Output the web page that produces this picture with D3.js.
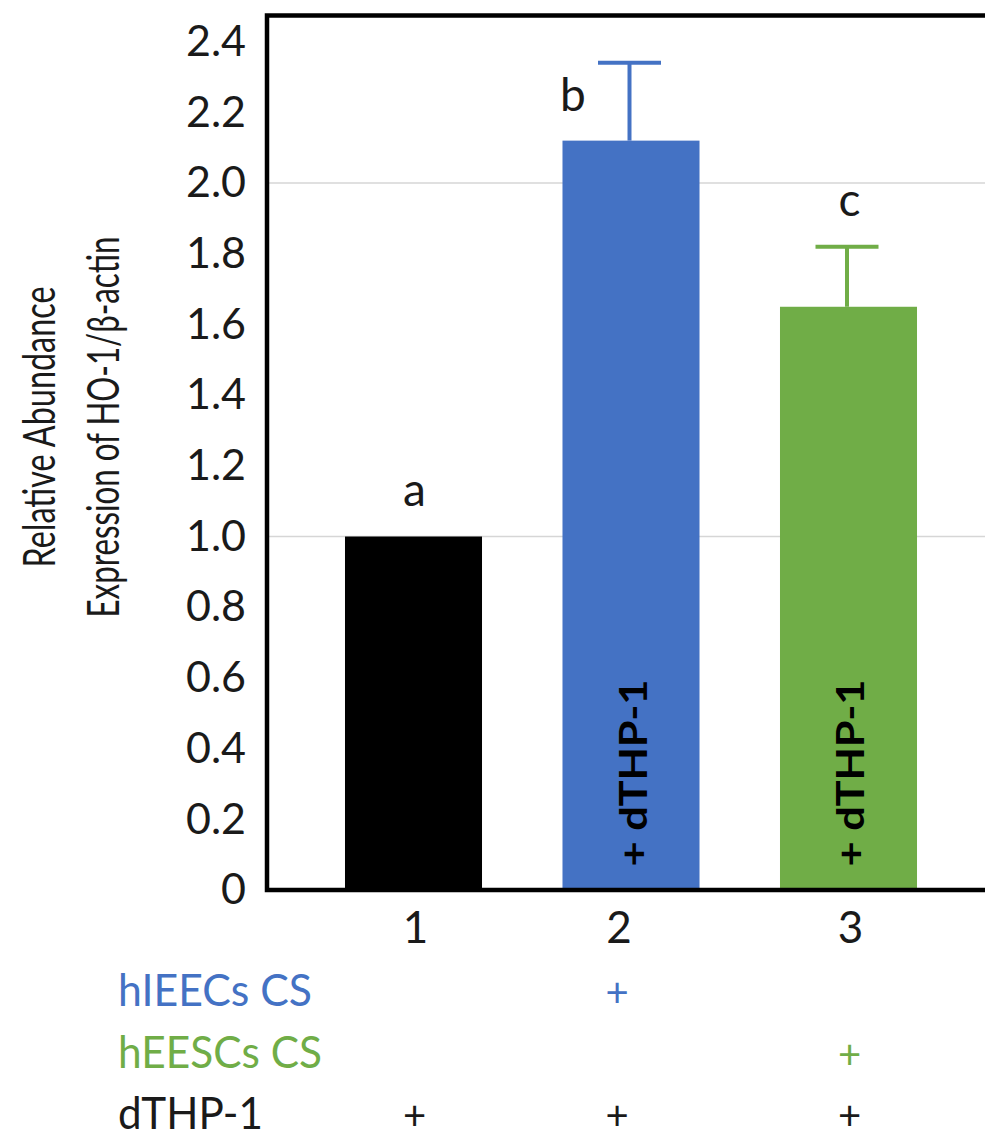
<!DOCTYPE html>
<html>
<head>
<meta charset="utf-8">
<script src="https://cdn.jsdelivr.net/npm/d3@7"></script>
<style>
  html, body { margin: 0; padding: 0; background: #fff; }
  svg { display: block; }
  text { font-family: Lato, "Open Sans", sans-serif; fill: #1a1a1a; }
</style>
</head>
<body>
<svg id="chart" width="985" height="1138"></svg>
<script>
// ---- data ----
const categories = ["1", "2", "3"];
const values = [1.00, 2.12, 1.65];
const errors = [0.00, 0.22, 0.17];
const letters = ["a", "b", "c"];
const barColors = ["#000000", "#4472C4", "#70AD47"];
const barInnerLabels = ["", "+ dTHP-1", "+ dTHP-1"];
const yTicks = [0, 0.2, 0.4, 0.6, 0.8, 1.0, 1.2, 1.4, 1.6, 1.8, 2.0, 2.2, 2.4];
const gridValues = [1.0, 2.0];
const rowLabels = ["hIEECs CS", "hEESCs CS", "dTHP-1"];
const rowColors = ["#4472C4", "#70AD47", "#1a1a1a"];
const rowMarks = [
  ["", "+", ""],
  ["", "", "+"],
  ["+", "+", "+"]
];
const yTitle = ["Relative Abundance", "Expression of HO-1/\u03B2-actin"];

// ---- layout ----
const svg = d3.select("#chart");
const plot = { left: 267, top: 15.5, right: 985, bottom: 890 };

const y = d3.scaleLinear().domain([0, 2.474]).range([plot.bottom, plot.top]);
const x = d3.scaleBand().domain(categories)
  .range([304.75, 957.25]).paddingInner(0.37).paddingOuter(0.185);
const cx = d => x(d) + x.bandwidth() / 2;

// gridlines
svg.append("g").selectAll("line").data(gridValues).join("line")
  .attr("x1", plot.left).attr("x2", plot.right)
  .attr("y1", d => y(d)).attr("y2", d => y(d))
  .attr("stroke", "#d6d6d6").attr("stroke-width", 1.5);

// bars
const data = categories.map((c, i) => ({ c, v: values[i], e: errors[i], l: letters[i], col: barColors[i], inner: barInnerLabels[i], i }));
svg.append("g").selectAll("rect").data(data).join("rect")
  .attr("x", d => x(d.c)).attr("width", x.bandwidth())
  .attr("y", d => y(d.v)).attr("height", d => y(0) - y(d.v))
  .attr("fill", d => d.col);

// error bars (upper only)
const eb = svg.append("g").selectAll("g").data(data.filter(d => d.e > 0)).join("g")
  .attr("stroke", d => d.col).attr("stroke-width", 4);
eb.append("line")
  .attr("x1", d => cx(d.c) - 1.5).attr("x2", d => cx(d.c) - 1.5)
  .attr("y1", d => y(d.v)).attr("y2", d => y(d.v + d.e));
eb.append("line")
  .attr("x1", d => cx(d.c) - 33).attr("x2", d => cx(d.c) + 30)
  .attr("y1", d => y(d.v + d.e)).attr("y2", d => y(d.v + d.e));

// significance letters
svg.append("g").selectAll("text").data(data).join("text")
  .attr("x", d => d.i === 1 ? cx(d.c) - 58 : cx(d.c) + 1)
  .attr("y", d => d.i === 1 ? y(d.v + d.e) + 48 : y(d.v + d.e) - 31)
  .attr("text-anchor", "middle")
  .attr("font-size", 46)
  .text(d => d.l);

// inner vertical labels
svg.append("g").selectAll("text").data(data.filter(d => d.inner)).join("text")
  .attr("transform", d => `translate(${cx(d.c) + 2},${773}) rotate(-90)`)
  .attr("text-anchor", "middle")
  .attr("dy", "0.36em")
  .attr("font-size", 38).attr("font-weight", 700)
  .attr("textLength", 187).attr("lengthAdjust", "spacingAndGlyphs")
  .style("fill", "#000")
  .text(d => d.inner);

// y axis labels
const yAxis = d3.axisLeft(y).tickValues(yTicks).tickSize(0).tickPadding(21)
  .tickFormat(d => d === 0 ? "0" : d3.format(".1f")(d));
const gy = svg.append("g").attr("transform", `translate(${plot.left},0)`).call(yAxis);
gy.select(".domain").remove();
gy.selectAll("text").attr("font-size", 43).attr("font-family", "Lato, sans-serif").style("fill", "#1a1a1a");

// x axis labels
const xAxis = d3.axisBottom(x).tickSize(0).tickPadding(22);
const gx = svg.append("g").attr("transform", `translate(0,${plot.bottom})`).call(xAxis);
gx.select(".domain").remove();
gx.selectAll(".tick").attr("transform", (d, i) => `translate(${cx(d) + (i === 1 ? -12 : 2)},0)`);
gx.selectAll("text").attr("font-size", 44).attr("font-family", "Lato, sans-serif").style("fill", "#1a1a1a");

// frame: left, top, bottom
svg.append("path")
  .attr("d", `M${plot.right},${plot.top} H${plot.left} V${plot.bottom} H${plot.right}`)
  .attr("fill", "none").attr("stroke", "#000").attr("stroke-width", 4.5);

// y title
const titleLens = [281, 381];
const titleX = [39, 103];
svg.append("g").selectAll("text").data(yTitle).join("text")
  .attr("transform", (d, i) => `translate(${titleX[i]},427) rotate(-90)`)
  .attr("text-anchor", "middle").attr("dy", "0.36em")
  .attr("font-size", 45)
  .attr("textLength", (d, i) => titleLens[i]).attr("lengthAdjust", "spacingAndGlyphs")
  .text(d => d);

// condition rows
const rowY = [990, 1052, 1113];
const rowLens = [194, 204, 145];
const rows = svg.append("g").selectAll("g").data(rowLabels).join("g");
rows.append("text")
  .attr("x", 118).attr("y", (d, i) => rowY[i]).attr("dy", "0.36em")
  .attr("font-size", 44)
  .attr("textLength", (d, i) => rowLens[i]).attr("lengthAdjust", "spacingAndGlyphs")
  .style("fill", (d, i) => rowColors[i])
  .text(d => d);
rows.each(function(lbl, r) {
  d3.select(this).selectAll("text.mark").data(rowMarks[r]).join("text")
    .attr("class", "mark")
    .attr("x", (m, j) => cx(categories[j]) + (j === 1 ? -14 : 1))
    .attr("y", rowY[r] + 3).attr("dy", "0.36em")
    .attr("text-anchor", "middle").attr("font-size", 40)
    .style("fill", rowColors[r])
    .text(m => m);
});
</script>
</body>
</html>
